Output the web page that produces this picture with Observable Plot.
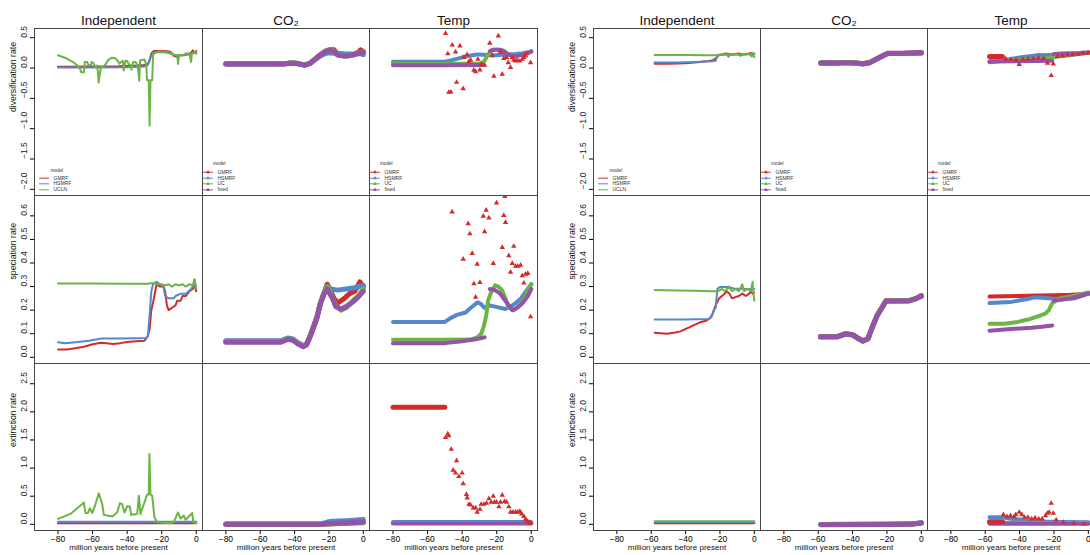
<!DOCTYPE html>
<html><head><meta charset="utf-8">
<script src="https://cdn.jsdelivr.net/npm/d3@7"></script>
<script src="https://cdn.jsdelivr.net/npm/@observablehq/plot@0.6"></script>
<style>
body{margin:0;background:#fff;}
#root{position:relative;width:1090px;height:555px;overflow:hidden;background:#fff;font-family:"Liberation Sans",Arial,Helvetica,sans-serif;}
#root svg{position:absolute;overflow:visible;max-width:none;}
</style></head><body><div id="root"></div>
<script>
// ---------- labels / ticks ----------
const colTitles = ["Independent", "CO\u2082", "Temp"];
const rowLabels = ["diversification rate", "speciation rate", "extinction rate"];
const yTicks0 = [-2, -1.5, -1, -0.5, 0, 0.5];
const yTicks1 = [0, 0.1, 0.2, 0.3, 0.4, 0.5, 0.6];
const yTicks2 = [0, 0.5, 1, 1.5, 2, 2.5];
const xTicks = [-80, -60, -40, -20, 0];
const xLabel = "million years before present";
const modelsInd = ["GMRF", "HSMRF", "UCLN"];
const modelsCov = ["GMRF", "HSMRF", "UC", "fixed"];
const modelColors = {GMRF: "#d42a2a", HSMRF: "#5587cc", UCLN: "#6cb443", UC: "#6cb443", fixed: "#9452a8"};

// ---------- LEFT panel (a) : diversification ----------
const a_div_ind_gmrf = [[-80,0.02],[-60,0.025],[-45,0.03],[-35,0.04],[-30,0.05],[-28,0.07],[-27,0.12],[-26,0.24],[-24.5,0.28],[-18,0.28],[-15,0.27],[-13,0.2],[-11,0.18],[-9.5,0.21],[-7,0.21],[-5,0.23],[-3,0.25],[-2,0.29],[-1,0.25],[0,0.28]];
const a_div_ind_hsmrf = [[-80,0.01],[-60,0.01],[-40,0.015],[-30,0.025],[-28,0.05],[-26.5,0.18],[-25,0.25],[-22,0.26],[-18,0.26],[-15,0.24],[-12,0.21],[-9,0.21],[-6,0.22],[-3,0.23],[-1,0.25],[0,0.24]];
const a_div_ind_ucln = [[-80,0.21],[-76,0.17],[-72,0.11],[-69,0.05],[-67.5,0.0],[-66.5,-0.07],[-65,-0.07],[-64.5,0.1],[-63,0.1],[-62.5,0.05],[-61,0.05],[-60.5,0.1],[-59.5,0.08],[-58.5,0.02],[-57.5,0.04],[-57,-0.04],[-56.5,-0.24],[-55.5,-0.04],[-55,0.02],[-53,0.04],[-51,0.13],[-49,0.17],[-47,0.16],[-45.5,0.12],[-44.5,0.07],[-43.5,0.1],[-42.5,0.12],[-42,-0.04],[-41,0.12],[-40,0.12],[-39,0.06],[-38,0.05],[-37.5,-0.03],[-36.5,0.1],[-35,0.1],[-34,0.03],[-33.5,-0.05],[-33,-0.21],[-32.5,0.13],[-30,0.14],[-29,0.07],[-28.5,-0.2],[-27.5,-0.2],[-27,-0.95],[-26.5,-0.2],[-25.5,-0.2],[-25,0.22],[-24,0.25],[-22,0.27],[-18,0.27],[-15,0.25],[-13,0.22],[-11,0.2],[-10.5,0.07],[-10,0.22],[-8,0.21],[-6,0.24],[-4,0.24],[-3,0.1],[-2.5,0.25],[-1,0.26],[0,0.26]];
const a_div_co2_gmrf = [[-80,0.07],[-60,0.07],[-46,0.072],[-42,0.085],[-39,0.08],[-36,0.06],[-34,0.05],[-31,0.08],[-28,0.15],[-25,0.22],[-22,0.28],[-20,0.3],[-17,0.3],[-15,0.23],[-12,0.21],[-9,0.21],[-6,0.22],[-3,0.26],[-1.5,0.3],[0,0.27]];
const a_div_co2_hsmrf = [[-80,0.068],[-60,0.068],[-46,0.07],[-42,0.082],[-39,0.078],[-36,0.058],[-34,0.048],[-31,0.075],[-28,0.14],[-25,0.2],[-22,0.24],[-20,0.25],[-15,0.245],[-10,0.23],[-5,0.235],[-2,0.24],[0,0.22]];
const a_div_co2_uc = [[-80,0.07],[-60,0.07],[-46,0.072],[-42,0.085],[-39,0.08],[-36,0.06],[-34,0.05],[-31,0.08],[-28,0.15],[-25,0.22],[-22,0.28],[-20,0.29],[-17,0.28],[-15,0.22],[-12,0.2],[-9,0.2],[-6,0.22],[-3,0.25],[0,0.27]];
const a_div_co2_fixed = [[-80,0.066],[-60,0.066],[-46,0.068],[-42,0.08],[-39,0.076],[-36,0.056],[-34,0.046],[-31,0.075],[-28,0.145],[-25,0.215],[-22,0.275],[-20,0.29],[-17,0.27],[-15,0.215],[-12,0.2],[-9,0.2],[-6,0.215],[-3,0.24],[0,0.26]];
const a_div_tmp_hsmrf = [[-80,0.105],[-50,0.105],[-46,0.13],[-42,0.16],[-38,0.19],[-34,0.21],[-31,0.225],[-28,0.22],[-25,0.215],[-21,0.21],[-17,0.22],[-13,0.225],[-9,0.23],[-5,0.245],[-2,0.26],[0,0.275]];
const a_div_tmp_uc = [[-80,0.07],[-50,0.07],[-30,0.072],[-27.5,0.1],[-25,0.22],[-22.5,0.3],[-19,0.3],[-16,0.29],[-14,0.24],[-11,0.21],[-8,0.21],[-5,0.23],[-2,0.25],[0,0.27]];
const a_div_tmp_fixed = [[-80,0.045],[-50,0.045],[-28,0.05],[-27,null],[-24,0.28],[-22,0.3],[-18,0.3],[-16,0.27],[-13,0.22],[-11,0.2],[-8,0.2],[-5,0.22],[-2,0.25],[0,0.27]];
const a_div_tmp_gmrf_pts = [[-49.6,0.57],[-48.3,0.235],[-45.7,0.38],[-43.8,0.265],[-41.3,0.365],[-39,0.175],[-37.1,0.22],[-36.1,0.105],[-35.1,0.13],[-33.2,-0.035],[-32.2,-0.06],[-30.9,0.145],[-29.7,-0.03],[-28.8,0.06],[-27,0.045],[-24,0.41],[-22.6,0.205],[-21.6,-0.135],[-19.1,0.53],[-17.8,0.265],[-16.8,-0.1],[-15.9,0.16],[-14.3,0.175],[-13.3,0.09],[-12,0.01],[-11,0.175],[-10.1,0.13],[-9.1,0.115],[-8.1,0.13],[-6.6,0.115],[-5.2,0.145],[-4.3,0.175],[-3.3,0.205],[-2.7,0.235],[-0.4,0.09],[-43.2,-0.235],[-47.7,-0.4],[-46.5,-0.395],[-39.4,-0.34]];

// ---------- LEFT panel (a) : speciation ----------
const a_spe_ind_gmrf = [[-80,0.033],[-75,0.033],[-70,0.038],[-65,0.045],[-60,0.055],[-55,0.062],[-52,0.06],[-48,0.056],[-44,0.06],[-40,0.065],[-35,0.068],[-30,0.07],[-28,0.09],[-27,0.12],[-26,0.2],[-24.5,0.25],[-23,0.31],[-21,0.3],[-19,0.3],[-18,0.28],[-17,0.22],[-16,0.2],[-14,0.21],[-12,0.22],[-11,0.24],[-9,0.24],[-8,0.26],[-6,0.26],[-4,0.28],[-2,0.29],[-1,0.33],[-0.5,0.29],[0,0.28]];
const a_spe_ind_hsmrf = [[-80,0.064],[-76,0.06],[-70,0.064],[-62,0.07],[-55,0.08],[-45,0.08],[-35,0.081],[-29,0.082],[-28,0.09],[-27,0.18],[-26,0.28],[-25,0.31],[-23,0.32],[-21,0.31],[-19,0.3],[-18,0.26],[-16,0.25],[-13,0.25],[-12,0.26],[-9,0.27],[-6,0.27],[-3,0.29],[-1,0.31],[0,0.3]];
const a_spe_ind_ucln = [[-80,0.313],[-60,0.313],[-40,0.312],[-28,0.312],[-25,0.315],[-22,0.31],[-20,0.31],[-18,0.305],[-16,0.31],[-14,0.3],[-12,0.31],[-10,0.305],[-8,0.31],[-6,0.3],[-4,0.31],[-2,0.305],[-1,0.33],[0,0.29]];
const a_spe_co2_gmrf = [[-80,0.068],[-60,0.068],[-48,0.068],[-44,0.08],[-41,0.075],[-38,0.06],[-35,0.048],[-33,0.055],[-31,0.09],[-29,0.13],[-27,0.17],[-25,0.23],[-23,0.27],[-21,0.31],[-19,0.28],[-17,0.25],[-15,0.23],[-13,0.24],[-11,0.25],[-8,0.27],[-5,0.28],[-2,0.32],[0,0.3]];
const a_spe_co2_hsmrf = [[-80,0.07],[-60,0.07],[-48,0.07],[-44,0.082],[-41,0.078],[-38,0.062],[-35,0.05],[-33,0.057],[-31,0.09],[-29,0.13],[-27,0.17],[-25,0.23],[-23,0.27],[-21,0.3],[-19,0.29],[-15,0.285],[-10,0.29],[-5,0.295],[0,0.305]];
const a_spe_co2_uc = [[-80,0.066],[-60,0.066],[-48,0.066],[-44,0.078],[-41,0.074],[-38,0.058],[-35,0.047],[-33,0.054],[-31,0.088],[-29,0.128],[-27,0.168],[-25,0.228],[-23,0.268],[-21,0.3],[-19,0.27],[-16,0.22],[-13,0.2],[-10,0.21],[-6,0.24],[-3,0.26],[0,0.29]];
const a_spe_co2_fixed = [[-80,0.064],[-60,0.064],[-48,0.064],[-44,0.076],[-41,0.072],[-38,0.056],[-35,0.045],[-33,0.052],[-31,0.086],[-29,0.126],[-27,0.166],[-25,0.226],[-23,0.266],[-21,0.29],[-18,0.25],[-16,0.215],[-13,0.205],[-10,0.215],[-6,0.235],[-3,0.255],[0,0.28]];
const a_spe_tmp_hsmrf = [[-80,0.15],[-50,0.15],[-47,0.165],[-43,0.18],[-38,0.19],[-35,0.21],[-31,0.233],[-29,0.225],[-27,0.21],[-24,0.22],[-21,0.215],[-18,0.21],[-15,0.205],[-12,0.215],[-9,0.23],[-6,0.25],[-3,0.28],[0,0.31]];
const a_spe_tmp_uc = [[-80,0.074],[-50,0.074],[-35,0.075],[-31,0.085],[-29,0.1],[-27.5,0.13],[-26,0.18],[-25,0.24],[-23,0.28],[-21,0.305],[-19,0.3],[-17,0.285],[-15,0.25],[-13,0.21],[-10,0.2],[-7,0.22],[-4,0.25],[-1,0.3],[0,0.31]];
const a_spe_tmp_fixed = [[-80,0.059],[-50,0.06],[-40,0.068],[-33,0.075],[-27,0.085],[-26,null],[-24,0.29],[-21,0.285],[-18,0.27],[-15,0.24],[-13,0.22],[-11,0.2],[-8,0.21],[-5,0.23],[-2,0.26],[0,0.29]];
const a_spe_tmp_gmrf_pts = [[-45.8,0.617],[-36.5,0.567],[-35.5,0.524],[-39.4,0.416],[-34.2,0.441],[-31.3,0.395],[-33.2,0.312],[-29.7,0.318],[-32.2,0.255],[-27,0.533],[-26.1,0.624],[-27.8,0.599],[-24.5,0.591],[-20.1,0.655],[-15.3,0.682],[-22,0.398],[-16.8,0.466],[-15.9,0.602],[-14.9,0.572],[-13,0.431],[-10.1,0.471],[-12,0.361],[-11,0.398],[-9.1,0.386],[-7.8,0.386],[-6.2,0.391],[-5.2,0.346],[-4.3,0.315],[-3.3,0.353],[-2,0.356],[-0.4,0.172]];

// ---------- LEFT panel (a) : extinction ----------
const a_ext_ind_gmrf = [[-80,0.02],[0,0.02]];
const a_ext_ind_hsmrf = [[-80,0.045],[0,0.045]];
const a_ext_ind_ucln = [[-80,0.096],[-72.8,0.185],[-66,0.36],[-65.1,0.39],[-64.1,0.2],[-62.7,0.2],[-61.6,0.285],[-60.2,0.2],[-58.3,0.36],[-56.4,0.55],[-54.4,0.36],[-53.5,0.17],[-51.5,0.155],[-48.6,0.14],[-45.8,0.21],[-44.2,0.375],[-42.9,0.36],[-41.5,0.21],[-40,0.32],[-38.4,0.315],[-37.7,0.17],[-34.2,0.185],[-33.2,0.51],[-32.3,0.185],[-28.4,0.53],[-27.5,0.53],[-27.1,1.25],[-26.5,0.53],[-25.5,0.51],[-24.2,0.125],[-22.6,0.036],[-14.9,0.02],[-13,0.04],[-10.6,0.21],[-9.1,0.1],[-7.2,0.155],[-6.2,0.08],[-2.3,0.2],[-1.8,0.04],[0,0.02]];
const a_ext_co2_gmrf = [[-80,0.0],[-25,0.0],[0,0.035]];
const a_ext_co2_hsmrf = [[-80,0.005],[-25,0.005],[-21,0.04],[-18,0.055],[-10,0.065],[-4,0.075],[0,0.085]];
const a_ext_co2_uc = [[-80,0.0],[-25,0.0],[0,0.03]];
const a_ext_co2_fixed = [[-80,0.0],[-25,0.0],[-20,0.015],[-10,0.025],[0,0.04]];
const a_ext_tmp_hsmrf = [[-80,0.04],[0,0.04]];
const a_ext_tmp_uc = [[-80,0.025],[0,0.025]];
const a_ext_tmp_fixed = [[-80,0.015],[0,0.015]];
const a_ext_tmp_gmrf_line = [[-80,2.08],[-50,2.08]];
const a_ext_tmp_gmrf_pts = [[-49.6,1.544],[-48.3,1.607],[-47.7,1.575],[-46.3,1.335],[-43.2,1.133],[-45.2,0.963],[-43.8,0.912],[-41.9,0.85],[-40,0.912],[-39.4,0.722],[-37.5,0.533],[-37.1,0.47],[-36.1,0.356],[-35.1,0.343],[-33.6,0.293],[-32.2,0.293],[-31.3,0.217],[-29.7,0.267],[-29,0.356],[-27.4,0.356],[-25.9,0.375],[-24.5,0.457],[-23.2,0.394],[-22,0.501],[-21.3,0.394],[-20.1,0.394],[-18.7,0.312],[-17.8,0.394],[-16.8,0.52],[-15.5,0.407],[-14.3,0.394],[-13,0.312],[-12,0.217],[-10.5,0.217],[-9.1,0.217],[-7.8,0.217],[-6.6,0.23],[-5.6,0.185],[-4.3,0.141],[-3.3,0.09],[-2.35,0.059],[-1.4,0.04],[-0.4,0.015]];

// ---------- RIGHT panel (b) : diversification ----------
const b_div_ind_gmrf = [[-58,0.069],[-50,0.072],[-40,0.08],[-33,0.095],[-28,0.11],[-24,0.13],[-22,0.17],[-21,0.21],[-19,0.22],[-17,0.24],[-15,0.23],[-13,0.22],[-11,0.23],[-9,0.24],[-7,0.22],[-5,0.23],[-3,0.24],[-2,0.25],[-1,0.22],[0,0.24]];
const b_div_ind_hsmrf = [[-58,0.09],[-45,0.09],[-35,0.1],[-25,0.11],[-22.5,0.12],[-21.5,0.2],[-20.5,0.22],[-15,0.225],[-10,0.225],[-5,0.23],[0,0.23]];
const b_div_ind_ucln = [[-58,0.215],[-40,0.213],[-30,0.21],[-22,0.21],[-20,0.22],[-18,0.23],[-16,0.22],[-15,0.185],[-14,0.23],[-12,0.22],[-10,0.23],[-8,0.2],[-7,0.23],[-5,0.22],[-3,0.23],[-1.5,0.19],[-1,0.25],[0,0.18]];
const b_div_co2_gmrf = [[-58.5,0.085],[-50,0.085],[-46,0.088],[-42,0.09],[-38,0.082],[-34,0.07],[-30,0.09],[-26,0.15],[-22,0.21],[-19.5,0.245],[-10,0.245],[-5,0.25],[0,0.255]];
const b_div_co2_hsmrf = [[-58.5,0.083],[-50,0.083],[-46,0.086],[-42,0.088],[-38,0.08],[-34,0.068],[-30,0.088],[-26,0.148],[-22,0.205],[-19.5,0.238],[-10,0.24],[-5,0.245],[0,0.25]];
const b_div_co2_uc = [[-58.5,0.085],[-50,0.085],[-46,0.088],[-42,0.09],[-38,0.082],[-34,0.07],[-30,0.09],[-26,0.15],[-22,0.21],[-19.5,0.24],[-10,0.24],[-5,0.245],[0,0.25]];
const b_div_co2_fixed = [[-58.5,0.084],[-50,0.084],[-46,0.087],[-42,0.089],[-38,0.081],[-34,0.069],[-30,0.089],[-26,0.149],[-22,0.208],[-19.5,0.24],[-10,0.242],[-5,0.247],[0,0.252]];
const b_div_tmp_hsmrf = [[-57.5,0.096],[-50,0.12],[-45,0.15],[-40,0.175],[-33,0.2],[-29,0.215],[-25,0.21],[-20,0.22],[-15,0.215],[-10,0.22],[-5,0.235],[0,0.25]];
const b_div_tmp_uc = [[-57.5,0.113],[-45,0.12],[-35,0.14],[-25,0.16],[-15,0.2],[-5,0.235],[0,0.25]];
const b_div_tmp_fixed = [[-57.5,0.108],[-40,0.11],[-30,0.115],[-21,0.12],[-20.5,null],[-20,0.23],[-15,0.24],[-10,0.245],[-5,0.25],[0,0.26]];
const b_div_tmp_gmrf_line = [[-57.5,0.19],[-50,0.19]];
const b_div_tmp_gmrf_pts = [[-48,0.15],[-45,0.14],[-42,0.13],[-40.2,0.058],[-38,0.14],[-35,0.15],[-32,0.16],[-29,0.17],[-26,0.16],[-23.8,0.08],[-21.6,-0.124],[-20.4,0.069],[-18,0.19],[-15,0.2],[-12,0.21],[-9,0.22],[-6,0.23],[-3,0.24],[0,0.25]];

// ---------- RIGHT panel (b) : speciation ----------
const b_spe_ind_gmrf = [[-58,0.104],[-51,0.1],[-46,0.105],[-43,0.11],[-37,0.13],[-31,0.15],[-28,0.155],[-26,0.165],[-24.5,0.18],[-22.5,0.22],[-20.5,0.25],[-18,0.265],[-16,0.28],[-14.5,0.27],[-13,0.25],[-11,0.255],[-9,0.26],[-7,0.27],[-5,0.26],[-3,0.27],[-2,0.28],[-1,0.27],[0,0.275]];
const b_spe_ind_hsmrf = [[-58,0.16],[-40,0.16],[-27,0.162],[-25,0.17],[-23.5,0.2],[-22.5,0.21],[-21.5,0.29],[-20,0.298],[-15,0.298],[-12,0.292],[-5,0.29],[0,0.29]];
const b_spe_ind_ucln = [[-58,0.285],[-45,0.283],[-35,0.282],[-25,0.28],[-21,0.28],[-19,0.29],[-17,0.28],[-15,0.3],[-13,0.28],[-11,0.29],[-9,0.28],[-7,0.31],[-6,0.28],[-4,0.29],[-2,0.28],[-1,0.32],[-0.5,0.27],[0,0.24]];
const b_spe_co2_gmrf = [[-58.7,0.088],[-49,0.088],[-44,0.1],[-40,0.096],[-37,0.082],[-34,0.07],[-31,0.08],[-29,0.12],[-25.6,0.18],[-23,0.21],[-20.6,0.24],[-7,0.24],[-3,0.25],[0,0.262]];
const b_spe_co2_hsmrf = [[-58.7,0.086],[-49,0.086],[-44,0.098],[-40,0.094],[-37,0.08],[-34,0.068],[-31,0.078],[-29,0.118],[-25.6,0.178],[-23,0.208],[-20.6,0.238],[-7,0.24],[-3,0.248],[0,0.258]];
const b_spe_co2_uc = [[-58.7,0.088],[-49,0.088],[-44,0.1],[-40,0.096],[-37,0.082],[-34,0.07],[-31,0.08],[-29,0.12],[-25.6,0.18],[-23,0.21],[-20.6,0.24],[-7,0.24],[-3,0.25],[0,0.26]];
const b_spe_co2_fixed = [[-58.7,0.087],[-49,0.087],[-44,0.099],[-40,0.095],[-37,0.081],[-34,0.069],[-31,0.079],[-29,0.119],[-25.6,0.179],[-23,0.209],[-20.6,0.239],[-7,0.24],[-3,0.249],[0,0.26]];
const b_spe_tmp_gmrf = [[-57.5,0.258],[-40,0.26],[-30,0.262],[-20,0.263],[-10,0.265],[0,0.27]];
const b_spe_tmp_hsmrf = [[-57.5,0.23],[-45,0.235],[-37,0.245],[-31,0.255],[-23,0.25],[-17,0.245],[-8,0.25],[0,0.27]];
const b_spe_tmp_uc = [[-57.5,0.142],[-49,0.142],[-41,0.15],[-35,0.16],[-29,0.175],[-25,0.185],[-23,0.2],[-21,0.23],[-17,0.25],[-9,0.26],[0,0.275]];
const b_spe_tmp_fixed = [[-57.5,0.113],[-45,0.12],[-33,0.125],[-27,0.13],[-21,0.135],[-20.5,null],[-20,0.24],[-15,0.245],[-10,0.25],[-5,0.26],[0,0.27]];

// ---------- RIGHT panel (b) : extinction ----------
const b_ext_ind_gmrf = [[-58,0.02],[0,0.02]];
const b_ext_ind_hsmrf = [[-58,0.04],[0,0.04]];
const b_ext_ind_ucln = [[-58,0.055],[0,0.055]];
const b_ext_co2_gmrf = [[-58.5,-0.005],[-20,0.0],[-5,0.005],[0,0.025]];
const b_ext_co2_hsmrf = [[-58.5,-0.003],[-20,0.002],[-5,0.008],[0,0.03]];
const b_ext_co2_uc = [[-58.5,-0.005],[-20,0.0],[-5,0.005],[0,0.025]];
const b_ext_co2_fixed = [[-58.5,-0.006],[-20,-0.002],[-5,0.004],[0,0.025]];
const b_ext_tmp_hsmrf = [[-57.5,0.125],[-50,0.125],[-45,0.1],[-40,0.085],[-35,0.07],[-25,0.05],[-15,0.04],[0,0.035]];
const b_ext_tmp_uc = [[-57.5,0.03],[0,0.025]];
const b_ext_tmp_fixed = [[-57.5,0.01],[0,0.01]];
const b_ext_tmp_gmrf_line = [[-57.5,0.045],[-50,0.045]];
const b_ext_tmp_gmrf_pts = [[-49.4,0.173],[-47.3,0.137],[-45.3,0.155],[-43.2,0.137],[-42.2,0.173],[-40.2,0.214],[-38.7,0.173],[-37.1,0.125],[-35.1,0.125],[-33,0.096],[-31,0.113],[-28.9,0.096],[-26.9,0.096],[-24.9,0.155],[-23.8,0.197],[-22.8,0.214],[-21.6,0.374],[-20.4,0.197],[-18.7,0.078],[-14.6,0.036],[-8.5,0.019],[-2.4,0.007]];

// ---------- lookup built from the arrays ----------
const SERIES = {
  a: [
    [{GMRF:a_div_ind_gmrf,HSMRF:a_div_ind_hsmrf,UCLN:a_div_ind_ucln},
     {GMRF:a_div_co2_gmrf,HSMRF:a_div_co2_hsmrf,UC:a_div_co2_uc,fixed:a_div_co2_fixed},
     {HSMRF:a_div_tmp_hsmrf,UC:a_div_tmp_uc,fixed:a_div_tmp_fixed,pts:a_div_tmp_gmrf_pts}],
    [{GMRF:a_spe_ind_gmrf,HSMRF:a_spe_ind_hsmrf,UCLN:a_spe_ind_ucln},
     {GMRF:a_spe_co2_gmrf,HSMRF:a_spe_co2_hsmrf,UC:a_spe_co2_uc,fixed:a_spe_co2_fixed},
     {HSMRF:a_spe_tmp_hsmrf,UC:a_spe_tmp_uc,fixed:a_spe_tmp_fixed,pts:a_spe_tmp_gmrf_pts}],
    [{GMRF:a_ext_ind_gmrf,HSMRF:a_ext_ind_hsmrf,UCLN:a_ext_ind_ucln},
     {GMRF:a_ext_co2_gmrf,HSMRF:a_ext_co2_hsmrf,UC:a_ext_co2_uc,fixed:a_ext_co2_fixed},
     {HSMRF:a_ext_tmp_hsmrf,UC:a_ext_tmp_uc,fixed:a_ext_tmp_fixed,gline:a_ext_tmp_gmrf_line,pts:a_ext_tmp_gmrf_pts}]
  ],
  b: [
    [{GMRF:b_div_ind_gmrf,HSMRF:b_div_ind_hsmrf,UCLN:b_div_ind_ucln},
     {GMRF:b_div_co2_gmrf,HSMRF:b_div_co2_hsmrf,UC:b_div_co2_uc,fixed:b_div_co2_fixed},
     {HSMRF:b_div_tmp_hsmrf,UC:b_div_tmp_uc,fixed:b_div_tmp_fixed,gline:b_div_tmp_gmrf_line,pts:b_div_tmp_gmrf_pts}],
    [{GMRF:b_spe_ind_gmrf,HSMRF:b_spe_ind_hsmrf,UCLN:b_spe_ind_ucln},
     {GMRF:b_spe_co2_gmrf,HSMRF:b_spe_co2_hsmrf,UC:b_spe_co2_uc,fixed:b_spe_co2_fixed},
     {GMRF:b_spe_tmp_gmrf,HSMRF:b_spe_tmp_hsmrf,UC:b_spe_tmp_uc,fixed:b_spe_tmp_fixed}],
    [{GMRF:b_ext_ind_gmrf,HSMRF:b_ext_ind_hsmrf,UCLN:b_ext_ind_ucln},
     {GMRF:b_ext_co2_gmrf,HSMRF:b_ext_co2_hsmrf,UC:b_ext_co2_uc,fixed:b_ext_co2_fixed},
     {HSMRF:b_ext_tmp_hsmrf,UC:b_ext_tmp_uc,fixed:b_ext_tmp_fixed,gline:b_ext_tmp_gmrf_line,pts:b_ext_tmp_gmrf_pts}]
  ]
};

// ---------- layout ----------
const XD = [-93.6, 3.6];
const YD = [[-2.102, 0.652], [-0.0264, 0.6864], [-0.11, 2.86]];
const Y_TICKS = [yTicks0, yTicks1, yTicks2];
const panelCols = {a: [34, 202, 369, 537], b: [593, 760, 927, 1094]};
const rowEdges = [28, 195, 363, 530];
const FONT = "'Liberation Sans', Arial, Helvetica, sans-serif";
const fmt1 = v => (v < 0 ? "\u2212" : "") + Math.abs(v).toFixed(1);
const fmtX = v => (v < 0 ? "\u2212" : "") + Math.abs(v);
const X = d => d[0], Y = d => d[1];

function legendMarks(c, cw, rh, yd) {
  const xAt = px => XD[0] + px / cw * (XD[1] - XD[0]);
  const yAt = py => yd[1] - py / rh * (yd[1] - yd[0]);
  const models = c === 0 ? modelsInd : modelsCov;
  const rowsY = c === 0 ? [149.7, 155.3, 161.3] : [143.7, 149.7, 155.3, 161.3];
  const seg = c === 0 ? [5, 14] : [1, 10];
  const textX = c === 0 ? 19 : 15;
  const titleX = c === 0 ? 16 : 10.5;
  const titleY = c === 0 ? 142 : 135;
  const marks = [Plot.text(["model"], {x: xAt(titleX), y: yAt(titleY), text: d => d, textAnchor: "start", fontSize: 4.6, fill: "#333"})];
  models.forEach((m, i) => {
    const y = yAt(rowsY[i]);
    marks.push(Plot.line([[xAt(seg[0]), y], [xAt(seg[1]), y]], {x: X, y: Y, stroke: modelColors[m], strokeWidth: 1}));
    if (c > 0) marks.push(Plot.dot([[xAt((seg[0] + seg[1]) / 2), y]], {x: X, y: Y, symbol: "triangle", r: 1.4, fill: modelColors[m], stroke: "none"}));
    marks.push(Plot.text([m], {x: xAt(textX), y, text: d => d, textAnchor: "start", fontSize: 5, fill: "#333"}));
  });
  return marks;
}

function makeCell(p, r, c) {
  const cols = panelCols[p];
  const left = cols[c], right = cols[c + 1];
  const top = rowEdges[r], bottom = rowEdges[r + 1];
  const cw = right - left, rh = bottom - top;
  const mL = c === 0 ? 40 : 0, mT = r === 0 ? 28 : 0, mB = r === 2 ? 25 : 0;
  const yd = YD[r];
  const set = SERIES[p][r][c];
  const models = c === 0 ? modelsInd : modelsCov;
  const sw = [2, 5, 4][c];
  const marks = [];
  models.forEach(m => {
    if (set[m]) marks.push(Plot.line(set[m], {x: X, y: Y, stroke: modelColors[m], strokeWidth: sw, clip: true}));
  });
  if (set.gline) marks.push(Plot.line(set.gline, {x: X, y: Y, stroke: modelColors.GMRF, strokeWidth: 5, clip: true}));
  if (set.pts) marks.push(Plot.dot(set.pts, {x: X, y: Y, symbol: "triangle", r: 2, fill: modelColors.GMRF, stroke: "none", clip: true}));
  if (r === 0) {
    marks.push(...legendMarks(c, cw, rh, yd));
    marks.push(Plot.text([colTitles[c]], {frameAnchor: "top", dy: -13, text: d => d, fontSize: 13.5, fill: "#111"}));
  }
  if (c === 0) {
    marks.push(Plot.text(Y_TICKS[r], {y: d => d, frameAnchor: "left", dx: -10, rotate: -90, text: fmt1, fontSize: 8.5, fill: "#222"}));
    marks.push(Plot.text([rowLabels[r]], {frameAnchor: "left", dx: -21.5, rotate: -90, text: d => d, fontSize: 8.7, fill: "#111"}));
  }
  if (r === 2) {
    marks.push(Plot.text([xLabel], {frameAnchor: "bottom", dy: 19, text: d => d, fontSize: 8, fill: "#111"}));
  }
  marks.push(Plot.frame({stroke: "#444", strokeWidth: 1}));
  const svg = Plot.plot({
    width: mL + cw, height: mT + rh + mB,
    marginLeft: mL, marginRight: 0, marginTop: mT, marginBottom: mB,
    style: {fontFamily: FONT, fontSize: "8.5px", background: "transparent", overflow: "visible"},
    x: {domain: XD, axis: r === 2 ? "bottom" : null, ticks: xTicks, tickFormat: fmtX, tickSize: 4, tickPadding: 1, label: null},
    y: {domain: yd, axis: c === 0 ? "left" : null, ticks: Y_TICKS[r], tickFormat: () => "", tickSize: 4, label: null},
    marks
  });
  svg.style.position = "absolute";
  svg.style.left = (left - mL) + "px";
  svg.style.top = (top - mT) + "px";
  return svg;
}

const root = document.getElementById("root");
["a", "b"].forEach(p => {
  for (let r = 0; r < 3; r++) for (let c = 0; c < 3; c++) root.appendChild(makeCell(p, r, c));
});
</script></body></html>
